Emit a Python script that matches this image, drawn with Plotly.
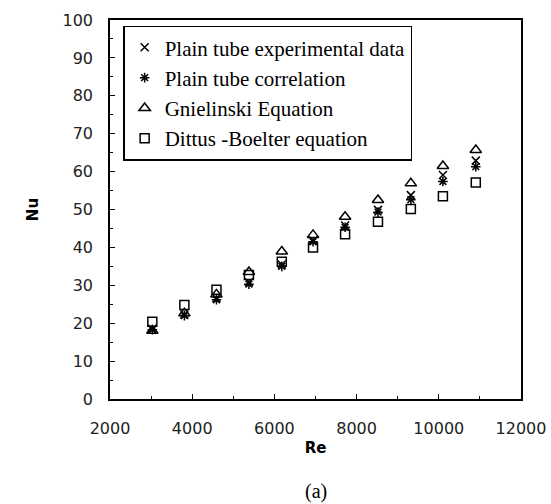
import plotly.graph_objects as go

re_vals = [3030, 3810, 4590, 5380, 6180, 6940, 7720, 8520, 9320, 10100, 10900]
nu_exp = [18.5, 22.3, 26.6, 30.8, 35.5, 41.8, 45.8, 49.9, 53.8, 59.1, 62.9]
nu_corr = [18.3, 22.0, 26.2, 30.3, 35.0, 41.5, 45.3, 49.3, 52.6, 57.4, 61.3]
nu_gniel = [18.0, 22.6, 27.6, 33.5, 38.9, 43.3, 48.1, 52.5, 56.9, 61.5, 65.7]
nu_dittus = [20.4, 24.8, 28.8, 32.7, 36.2, 40.0, 43.5, 46.8, 50.1, 53.5, 57.1]

names = ["Plain tube experimental data", "Plain tube correlation",
         "Gnielinski Equation", "Dittus -Boelter equation"]
symbols = ["x-thin-open", "asterisk-open", "triangle-up-open", "square-open"]
sizes = [8, 8, 10, 9]
series = [nu_exp, nu_corr, nu_gniel, nu_dittus]

fig = go.Figure()
for i, (nm, sym, sz, ys) in enumerate(zip(names, symbols, sizes, series)):
    fig.add_trace(go.Scatter(
        x=re_vals, y=ys, mode="markers", name=nm, legendgroup=str(i),
        marker=dict(symbol=sym, size=sz, color="black",
                    line=dict(width=1.5, color="black")),
    ))

axis_common = dict(showline=True, linecolor="black", linewidth=1.5, mirror=True,
                   ticks="inside", ticklen=5, tickcolor="black", tickwidth=1.2,
                   showgrid=False, zeroline=False, automargin=False,
                   tickfont=dict(family="DejaVu Sans", size=16, color="#222"))

fig.update_xaxes(range=[2000, 12000], dtick=2000, tick0=2000, tickformat="d",
                 ticklabelstandoff=14,
                 minor=dict(ticks="inside", ticklen=3, dtick=1000, tickcolor="black", showgrid=False),
                 title=dict(text="<b>Re</b>", font=dict(family="DejaVu Sans", size=15, color="black"), standoff=6),
                 **axis_common)
fig.update_yaxes(range=[0, 100], dtick=10, tickformat="d",
                 ticklabelstandoff=12,
                 minor=dict(ticks="inside", ticklen=3, dtick=5, tickcolor="black", showgrid=False),
                 title=dict(text="<b>Nu</b>", font=dict(family="DejaVu Sans", size=15, color="black"), standoff=20),
                 **axis_common)

fig.update_layout(
    width=551, height=504,
    margin=dict(l=110, r=30, t=20, b=105),
    paper_bgcolor="white", plot_bgcolor="white",
    legend=dict(x=0.032, y=0.985, xanchor="left", yanchor="top",
                bordercolor="black", borderwidth=1.5, bgcolor="white",
                font=dict(family="Liberation Serif", size=21, color="black"),
                tracegroupgap=0, traceorder="grouped", itemwidth=30),
    annotations=[dict(text="(a)", xref="paper", yref="paper", x=0.5, y=-0.245,
                      xanchor="center", yanchor="middle", showarrow=False,
                      font=dict(family="Liberation Serif", size=20, color="black"))],
)

fig.write_html("out.html")
